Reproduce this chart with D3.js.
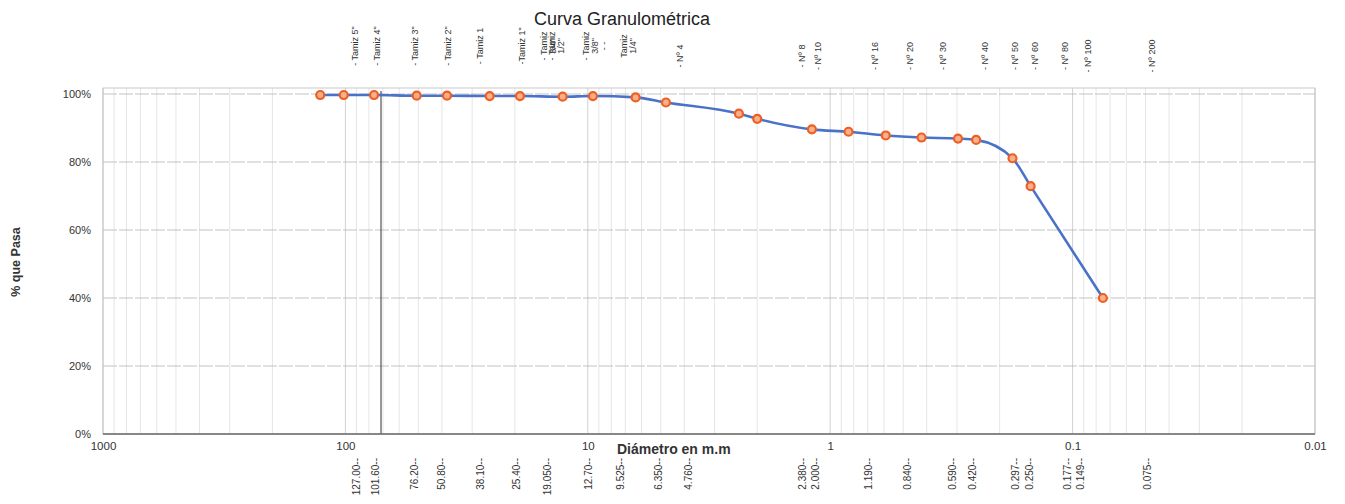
<!DOCTYPE html>
<html>
<head>
<meta charset="utf-8">
<script src="https://cdn.jsdelivr.net/npm/d3@7"></script>
<style>
  html, body { margin: 0; padding: 0; background: #fff; }
  svg { display: block; font-family: "Liberation Sans", Arial, sans-serif; }
</style>
</head>
<body>
<svg id="chart" width="1345" height="504"></svg>
<script>
// Sieve openings (mm) and percent passing
const diameters = [127.00, 101.60, 76.20, 50.80, 38.10, 25.40, 19.050, 12.70, 9.525, 6.350, 4.760,
                   2.380, 2.000, 1.190, 0.840, 0.590, 0.420, 0.297, 0.250, 0.177, 0.149, 0.075];
const percentPassing = [99.7, 99.7, 99.7, 99.5, 99.5, 99.4, 99.4, 99.2, 99.4, 99.0, 97.5,
                        94.2, 92.7, 89.6, 88.9, 87.8, 87.2, 86.9, 86.5, 81.1, 72.9, 40.0];

// Sieve names along the top, and where each one sits on the diameter axis
const sieveNames = ['- Tamiz 5"', '- Tamiz 4"', '- Tamiz 3"', '- Tamiz 2"', '- Tamiz 1', '-Tamiz 1"',
                    '- Tamiz|3/4"', '- Tamiz|1/2"', '- Tamiz|3/8"|- -', 'Tamiz|1/4"', '- Nº 4',
                    '- Nº 8', '- Nº 10', '- Nº 16', '- Nº 20', '- Nº 30', '- Nº 40', '- Nº 50',
                    '- Nº 60', '- Nº 80', '- Nº 100', '- Nº 200'];
const sieveNameAt = [91.3, 74.1, 51.6, 37.7, 27.8, 18.7, 14.6, 13.5, 9.34, 6.83, 4.16,
                     1.307, 1.123, 0.653, 0.469, 0.3424, 0.2298, 0.1728, 0.1429, 0.1075, 0.0864, 0.0470];

// Opening sizes written along the bottom, and their anchors on the diameter axis
const openingLabels = ['127.00--', '101.60--', '76.20--', '50.80--', '38.10--', '25.40--', '19.050--',
                       '12.70--', '9.525--', '6.350--', '4.760--', '2.380--', '2.000--', '1.190--',
                       '0.840--', '0.590--', '0.420--', '0.297--', '0.250--', '0.177--', '0.149--', '0.075--'];
const openingLabelAt = [90.4, 74.8, 52.1, 40.3, 27.8, 19.6, 14.7, 9.96, 7.36, 5.13, 3.86,
                        1.307, 1.155, 0.698, 0.478, 0.3144, 0.2576, 0.1728, 0.1499, 0.1045, 0.0932, 0.0493];

// Axis ticks
const xTicks = [1000, 100, 10, 1, 0.1, 0.01];
const xTickLabels = ['1000', '100', '10', '1', '0.1', '0.01'];
const yTicks = [0, 20, 40, 60, 80, 100];

// Vertical reference rule drawn across the plot
const referenceRuleAt = 71.3;

const svg = d3.select('#chart');

const x = d3.scaleLog().domain([1000, 0.01]).range([103, 1315]);
const y = d3.scaleLinear().domain([0, 100]).range([434, 94]);
const plotTop = 88;

// Minor vertical grid (2..9 within each decade)
const minor = [];
for (let k = -2; k <= 2; k++) {
  for (let m = 2; m <= 9; m++) minor.push(m * Math.pow(10, k));
}
const grid = svg.append('g');
grid.selectAll('line.minor').data(minor).join('line')
  .attr('class', 'minor')
  .attr('x1', d => x(d)).attr('x2', d => x(d))
  .attr('y1', plotTop).attr('y2', y(0))
  .attr('stroke', '#e0e0e0').attr('stroke-width', 0.8);
grid.selectAll('line.major').data(xTicks).join('line')
  .attr('class', 'major')
  .attr('x1', d => x(d)).attr('x2', d => x(d))
  .attr('y1', plotTop).attr('y2', y(0))
  .attr('stroke', '#cccccc').attr('stroke-width', 0.9);

// Horizontal grid
grid.selectAll('line.h').data(yTicks.filter(d => d > 0)).join('line')
  .attr('class', 'h')
  .attr('x1', x(1000)).attr('x2', x(0.01))
  .attr('y1', d => y(d)).attr('y2', d => y(d))
  .attr('stroke', '#b4b4b4').attr('stroke-width', 0.8)
  .attr('stroke-dasharray', '14,2');

// Plot frame
svg.append('rect')
  .attr('x', x(1000)).attr('y', plotTop)
  .attr('width', x(0.01) - x(1000)).attr('height', y(0) - plotTop)
  .attr('fill', 'none').attr('stroke', '#c4c4c4').attr('stroke-width', 0.9);

// Reference rule
svg.append('line')
  .attr('x1', x(referenceRuleAt)).attr('x2', x(referenceRuleAt))
  .attr('y1', plotTop + 3).attr('y2', y(0))
  .attr('stroke', '#333').attr('stroke-width', 1);

// Baseline (0%)
svg.append('line')
  .attr('x1', x(1000)).attr('x2', x(0.01))
  .attr('y1', y(0)).attr('y2', y(0))
  .attr('stroke', '#6a6a6a').attr('stroke-width', 1.6);

// Y axis labels
const yAxis = d3.axisLeft(y).tickValues(yTicks).tickFormat(d => d + '%').tickSize(0).tickPadding(12);
const gy = svg.append('g').attr('transform', `translate(${x(1000)},0)`).call(yAxis);
gy.select('.domain').remove();
gy.selectAll('text').attr('font-size', 11).attr('fill', '#333')
  .attr('font-family', '"Liberation Sans", Arial, sans-serif');

// X axis labels
const xAxis = d3.axisBottom(x).tickValues(xTicks)
  .tickFormat((d, i) => xTickLabels[i]).tickSize(0).tickPadding(8);
const gx = svg.append('g').attr('transform', `translate(0,${y(0)})`).call(xAxis);
gx.select('.domain').remove();
gx.selectAll('text').attr('font-size', 11.5).attr('fill', '#333')
  .attr('font-family', '"Liberation Sans", Arial, sans-serif');

// Grading curve
const pts = diameters.map((d, i) => [d, percentPassing[i]]);
svg.append('path')
  .datum(pts)
  .attr('d', d3.line().x(d => x(d[0])).y(d => y(d[1])).curve(d3.curveMonotoneX))
  .attr('fill', 'none').attr('stroke', '#4a72c8').attr('stroke-width', 2.6)
  .attr('stroke-linejoin', 'round');

svg.append('g').selectAll('circle').data(pts).join('circle')
  .attr('cx', d => x(d[0])).attr('cy', d => y(d[1])).attr('r', 4)
  .attr('fill', '#f6b08a').attr('stroke', '#ee5f26').attr('stroke-width', 2.2);

// Sieve names (top, rotated)
const names = svg.append('g').attr('font-size', 9).attr('fill', '#333');
names.selectAll('text').data(sieveNames).join('text')
  .attr('transform', (d, i) => {
    const cy = d.includes('Tamiz') ? 46 : 56;
    return `translate(${x(sieveNameAt[i])},${cy}) rotate(-90)`;
  })
  .attr('text-anchor', 'middle')
  .each(function(d) {
    const lines = d.split('|');
    const t = d3.select(this);
    lines.forEach((ln, j) => {
      t.append('tspan').attr('x', 0)
        .attr('dy', j === 0 ? (0.35 - (lines.length - 1) * 0.5) + 'em' : '1em')
        .text(ln);
    });
  });

// Opening sizes (bottom, rotated)
svg.append('g').attr('font-size', 10).attr('fill', '#333')
  .selectAll('text').data(openingLabels).join('text')
  .attr('transform', (d, i) => `translate(${x(openingLabelAt[i])},458) rotate(-90)`)
  .attr('text-anchor', 'end')
  .attr('dy', '0.35em')
  .text(d => d);

// Titles
svg.append('text')
  .attr('x', 622).attr('y', 25)
  .attr('text-anchor', 'middle').attr('font-size', 18).attr('fill', '#222')
  .text('Curva Granulométrica');

svg.append('text')
  .attr('x', 617).attr('y', 454)
  .attr('font-size', 14).attr('font-weight', 'bold').attr('fill', '#333')
  .text('Diámetro en m.m');

svg.append('text')
  .attr('transform', 'translate(20,262) rotate(-90)')
  .attr('text-anchor', 'middle').attr('font-size', 12.5).attr('font-weight', 'bold').attr('fill', '#333')
  .text('% que Pasa');
</script>
</body>
</html>
